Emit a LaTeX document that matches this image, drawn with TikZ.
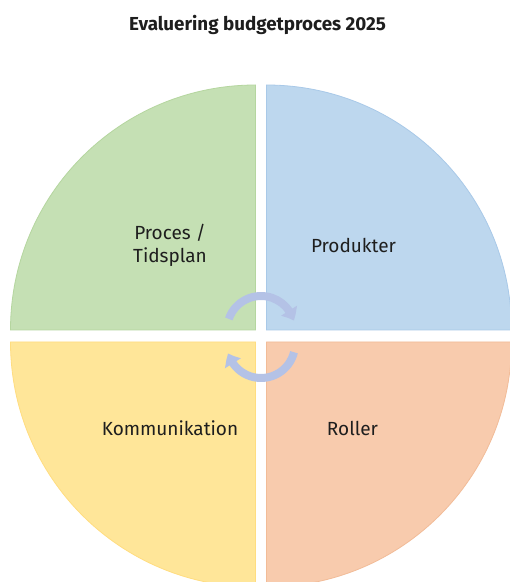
\documentclass[tikz,border=0pt]{standalone}
\usepackage{fontspec}
\setmainfont{Fira Sans}
\usetikzlibrary{arrows.meta,bending}
\definecolor{qgreen}{HTML}{C5E0B4}
\definecolor{qblue}{HTML}{BDD7EE}
\definecolor{qyellow}{HTML}{FFE699}
\definecolor{qorange}{HTML}{F8CBAD}
\definecolor{lgreen}{HTML}{B5D69F}
\definecolor{lblue}{HTML}{A9C9E8}
\definecolor{lyellow}{HTML}{FFDD80}
\definecolor{lorange}{HTML}{F2BC98}
\definecolor{arrowc}{HTML}{B4C2E6}
\definecolor{txt}{HTML}{1E1E1E}
\tikzset{
  quad/.style={line width=0.8pt},
  cyc/.style={draw=arrowc, line width=8pt, -{Triangle[width=18pt,length=11pt,bend]}},
  lbl/.style={font=\fontsize{19}{23}\selectfont, text=txt, inner sep=0pt, align=center},
  ttl/.style={font=\bfseries\fontsize{18.8}{22}\selectfont, text=txt, inner sep=0pt}
}
\begin{document}
\begin{tikzpicture}[x=1pt,y=1pt]
\useasboundingbox (0,0) rectangle (510,582);
\fill[white] (0,0) rectangle (510,582);
% quadrants
\filldraw[quad, fill=qgreen, draw=lgreen] (255.5,252) -- ++(-245,0) arc[start angle=180,end angle=90,radius=245] -- cycle;
\filldraw[quad, fill=qblue, draw=lblue] (266.5,252) -- ++(245,0) arc[start angle=0,end angle=90,radius=245] -- cycle;
\filldraw[quad, fill=qyellow, draw=lyellow] (255.5,240) -- ++(-245,0) arc[start angle=180,end angle=270,radius=245] -- cycle;
\filldraw[quad, fill=qorange, draw=lorange] (266.5,240) -- ++(245,0) arc[start angle=0,end angle=-90,radius=245] -- cycle;
% cycle arrows
\coordinate (ctop) at (261,252);
\coordinate (cbot) at (261,238);
\draw[cyc] (ctop) ++(161:34) arc[start angle=161,end angle=16,radius=34];
\draw[cyc] (cbot) ++(-14:34) arc[start angle=-14,end angle=-164,radius=34];
% texts
\node[ttl, anchor=base] (title) at (257.5,551) {Evaluering budgetproces 2025};
\node[lbl, anchor=center] (proces) at (170,337) {Proces /\\Tidsplan};
\node[lbl, anchor=base] (produkter) at (353.5,329) {Produkter};
\node[lbl, anchor=base] (komm) at (170,146) {Kommunikation};
\node[lbl, anchor=base] (roller) at (352.5,146) {Roller};
\end{tikzpicture}
\end{document}
